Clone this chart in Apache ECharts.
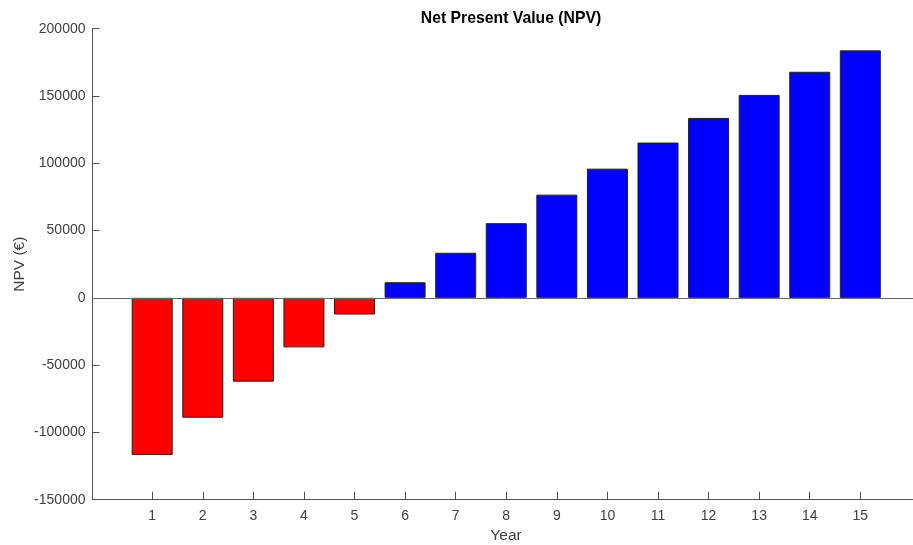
<!DOCTYPE html>
<html>
<head>
<meta charset="utf-8">
<script src="https://cdn.jsdelivr.net/npm/echarts@6/dist/echarts.min.js"></script>
<style>html,body{margin:0;padding:0;background:#fff}#c{width:913px;height:545px}</style>
</head>
<body>
<div id="c"></div>
<script>
const years = [1, 2, 3, 4, 5, 6, 7, 8, 9, 10, 11, 12, 13, 14, 15];
const npv = [-116700, -89100, -62300, -36800, -12400, 11600, 33500, 55500, 76700, 96000, 115400, 133700, 150800, 168000, 183900];
const yTicks = [-150000, -100000, -50000, 0, 50000, 100000, 150000, 200000];

const chart = echarts.init(document.getElementById('c'), null, {renderer: 'canvas'});
const font = 'Liberation Sans, Arial, sans-serif';
chart.setOption({
  animation: false,
  backgroundColor: '#fff',
  title: {
    text: 'Net Present Value (NPV)',
    left: 506, top: 6, textAlign: 'center',
    textStyle: {fontFamily: font, fontSize: 15.75, fontWeight: 'bold', color: '#000'}
  },
  grid: {left: 92.5, right: -6.5, top: 28.7, bottom: 45.3, containLabel: false, outerBoundsMode: 'none'},
  xAxis: {
    type: 'value', min: -0.18, max: 16.17,
    name: 'Year', nameLocation: 'middle', nameGap: 24,
    nameTextStyle: {fontFamily: font, fontSize: 15.5, color: '#404040'},
    axisLine: {show: true, onZero: false, lineStyle: {color: '#555', width: 1}},
    axisTick: {show: true, inside: true, length: 8, lineStyle: {color: '#555'}, customValues: years},
    axisLabel: {fontFamily: font, fontSize: 14, color: '#404040', margin: 9, customValues: years},
    splitLine: {show: false}
  },
  yAxis: {
    type: 'value', min: yTicks[0], max: yTicks[yTicks.length - 1], interval: 50000,
    name: 'NPV (€)', nameLocation: 'middle', nameGap: 65, nameRotate: 90, nameMoveOverlap: false,
    nameTextStyle: {fontFamily: font, fontSize: 15.5, color: '#404040'},
    axisLine: {show: true, onZero: false, lineStyle: {color: '#555', width: 1}},
    axisTick: {show: true, inside: true, length: 7, lineStyle: {color: '#555'}},
    axisLabel: {fontFamily: font, fontSize: 14, color: '#404040', margin: 7, formatter: v => String(v)},
    splitLine: {show: false}
  },
  series: [{
    type: 'bar',
    data: years.map((y, i) => [y, npv[i]]),
    barWidth: 41,
    itemStyle: {
      color: p => p.value[1] < 0 ? '#ff0000' : '#0000ff',
      borderColor: '#222', borderWidth: 1
    },
    markLine: {
      silent: true, symbol: 'none', animation: false,
      label: {show: false},
      lineStyle: {color: '#666', width: 1, type: 'solid'},
      data: [{yAxis: 0}]
    }
  }]
});
</script>
</body>
</html>
